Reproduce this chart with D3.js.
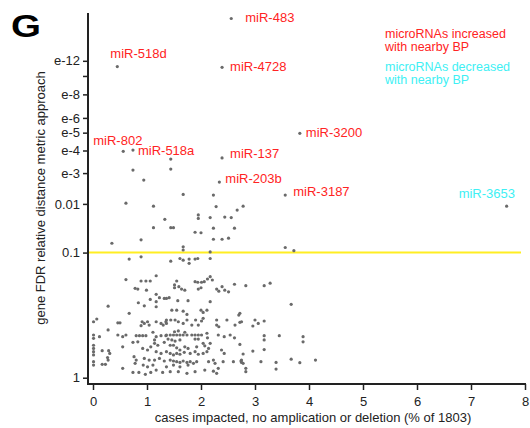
<!DOCTYPE html>
<html>
<head>
<meta charset="utf-8">
<script src="https://cdn.jsdelivr.net/npm/d3@7"></script>
<style>
  body { margin: 0; background: #fff; }
  svg { display: block; font-family: "Liberation Sans", Arial, Helvetica, sans-serif; }
</style>
</head>
<body>
<svg id="chart" width="530" height="428"></svg>
<script>
// x = % of 1803 cases impacted, v = -log10(gene FDR)
var xTicks = [0, 1, 2, 3, 4, 5, 6, 7, 8];
var yTickVals = [0, 1, 2, 3, 4, 5, 6, 8, 10, 12];
var yTickLabels = ["1", "0.1", "0.01", "e-3", "e-4", "e-5", "e-6", "e-8", "", "e-12"];
var cutoffFDR = 0.1;

var mirNames = ["miR-483", "miR-518d", "miR-4728", "miR-3200", "miR-802", "miR-518a", "miR-137", "miR-203b", "miR-3187", "miR-3653"];
var mirCases = [2.56, 0.45, 2.39, 3.83, 0.56, 0.74, 2.39, 2.34, 3.56, 7.66];
var mirFDR = [19.9, 11.2, 11.1, 4.96, 3.96, 4.02, 3.64, 2.67, 2.25, 1.94];
var mirDir = ["up", "up", "up", "up", "up", "up", "up", "up", "up", "down"];

var legendLines = [
  ["microRNAs increased", "up"], ["with nearby BP", "up"],
  ["microRNAs decreased", "down"], ["with nearby BP", "down"]
];

var points = [
  [1.44,3.59],[0.74,3.12],[1.44,3.16],[0.94,2.74],[0.61,2.02],[1.12,1.94],[1.33,1.62],[1.12,1.44],
  [1.44,1.44],[1.49,1.44],[0.35,1.15],[0.89,1.21],[1.67,2.27],[2.23,2.25],[2.28,1.93],[1.95,1.72],
  [1.95,1.64],[2.17,1.66],[2.44,1.67],[2.56,1.66],[2.67,1.84],[2.78,1.94],[1.89,1.35],[2.00,1.34],
  [2.23,1.43],[2.62,1.43],[2.23,1.22],[2.39,1.22],[2.51,1.24],[1.67,1.09],[1.67,1.04],[2.17,1.01],
  [3.56,1.08],[3.72,1.03],
  [0.67,.905],[0.89,.937],[0.61,.647],[0.89,.632],[0.98,.632],[1.06,.632],[1.17,.691],[0.78,.555],
  [0.83,.548],[0.99,.537],[1.17,.497],[1.23,.466],[1.32,.46],[1.06,.451],[0.84,.422],[0.95,.397],
  [1.17,.431],[1.17,.389],[0.28,.394],[0.67,.338],[0.01,.278],[0.07,.297],[0.46,.271],[0.50,.271],
  [0.91,.278],[0.95,.267],[1.01,.278],[1.04,.256],[0.89,.252],[1.17,.278],[1.26,.267],[1.35,.278],
  [1.30,.256],[0.28,.225],[0.01,.195],[0.01,.176],[0.12,.185],[0.46,.195],[0.55,.185],[0.61,.195],
  [0.80,.191],[0.86,.191],[0.92,.191],[0.98,.191],[1.11,.211],[1.17,.185],[1.26,.191],[1.35,.191],
  [0.74,.154],[0.83,.157],[0.55,.131],[1.14,.167],[1.14,.149],[1.20,.139],[1.32,.154],[0.01,.139],
  [0.01,.123],[0.17,.112],[0.29,.112],[0.31,.099],[0.92,.123],[1.01,.115],[1.07,.131],[1.17,.107],
  [1.26,.099],[0.01,.107],[0.01,.092],[0.76,.084],[0.80,.069],[0.78,.055],[0.95,.076],[1.04,.069],
  [1.14,.069],[1.23,.076],[1.32,.065],[0.01,.062],[0.01,.048],[0.17,.051],[0.23,.051],[0.55,.035],
  [0.74,.019],[0.85,.019],[0.97,.012],[1.07,.019],[1.17,.028],[1.29,.019],[0.93,.048],[1.01,.041],
  [1.11,.048],[0.27,.080],[0.28,.069],
  [1.44,.876],[1.61,.913],[1.67,.89],[1.78,.905],[1.78,.846],[1.89,.905],[1.94,.913],[2.17,.913],
  [1.55,.632],[1.51,.59],[1.51,.561],[1.59,.572],[1.64,.548],[1.70,.537],[1.89,.624],[1.94,.618],
  [2.01,.618],[2.06,.624],[2.12,.654],[2.17,.68],[2.21,.643],[1.95,.548],[2.00,.561],[2.29,.548],
  [2.33,.527],[2.39,.572],[2.44,.537],[2.51,.521],[2.62,.597],[1.36,.46],[1.41,.466],[1.57,.44],
  [1.76,.44],[2.17,.431],[1.46,.362],[1.55,.362],[1.67,.354],[1.74,.33],[2.00,.362],[2.04,.345],
  [2.11,.362],[2.70,.325],[1.36,.29],[1.36,.267],[1.44,.29],[1.52,.29],[1.58,.278],[1.67,.267],
  [1.74,.29],[1.83,.256],[1.90,.29],[1.95,.256],[2.01,.283],[2.04,.302],[2.29,.29],[2.29,.256],
  [2.33,.245],[2.48,.29],[2.63,.256],[2.75,.278],
  [1.36,.195],[1.43,.195],[1.49,.195],[1.55,.195],[1.61,.195],[1.67,.195],[1.74,.195],[1.83,.195],
  [1.89,.195],[1.95,.195],[2.01,.195],[1.51,.214],[1.58,.219],[1.70,.211],[1.39,.172],[1.46,.167],
  [1.52,.161],[1.61,.167],[1.89,.172],[1.95,.172],[2.11,.205],[2.12,.179],[2.32,.195],[2.43,.185],
  [2.54,.195],[2.62,.179],[1.43,.139],[1.49,.139],[1.55,.126],[1.61,.115],[1.70,.131],[1.76,.123],
  [1.92,.131],[2.04,.149],[2.07,.136],[2.14,.123],[2.17,.149],[2.38,.115],[2.43,.099],[1.36,.107],
  [1.43,.099],[1.49,.092],[1.55,.099],[1.61,.095],[1.69,.104],[1.80,.099],[1.89,.107],[1.95,.095],
  [2.04,.099],[2.11,.107],[1.43,.069],[1.49,.065],[1.55,.062],[1.61,.059],[1.67,.065],[1.74,.059],
  [1.80,.062],[1.86,.055],[1.92,.062],[2.14,.062],[2.23,.069],[2.26,.055],[2.41,.062],[2.60,.062],
  [2.74,.065],[1.36,.041],[1.49,.048],[1.61,.041],[1.76,.048],[1.43,.022],[1.58,.022],[1.74,.016],
  [1.89,.022],[2.07,.028],[2.23,.024],[2.29,.016],[2.32,.035],
  [2.83,.582],[3.17,.582],[3.28,.608],[3.67,.409],[2.72,.338],[2.72,.274],[3.00,.29],[3.06,.267],
  [2.96,.25],[3.17,.283],[3.17,.191],[3.17,.167],[3.45,.191],[3.89,.185],[3.89,.157],[2.72,.143],
  [2.78,.096],[2.96,.11],[3.17,.117],[2.75,.069],[2.75,.059],[2.78,.055],[2.83,.035],[2.83,.022],
  [3.11,.062],[3.39,.059],[3.39,.032],[3.67,.073],[3.83,.058],[4.12,.069]
];

var colors = { up: "#ff2323", down: "#3ef0f4" };

var svg = d3.select("#chart");
var x = d3.scaleLinear().domain([0, 8]).range([93, 525]);
// axis is log of (-log10 FDR + 0.3)
var yShift = 0.3;
var y = d3.scaleLog().domain([0.2787, 21.54]).range([384, 13]);
function yv(v) { return y(v + yShift); }

// label nudges (px) from each dot
var nudge = {
  "miR-483": [14, 4], "miR-518d": [-7, -9], "miR-4728": [8, 4], "miR-3200": [6, 4],
  "miR-802": [-30, -6], "miR-518a": [5, 5], "miR-137": [8, 0], "miR-203b": [6, 1],
  "miR-3187": [8, 1], "miR-3653": [-48, -8]
};

// cutoff line
svg.append("line")
  .attr("x1", 88).attr("x2", 521)
  .attr("y1", yv(-Math.log10(cutoffFDR))).attr("y2", yv(-Math.log10(cutoffFDR)))
  .attr("stroke", "#ffee22").attr("stroke-width", 2);

// dots
svg.append("g").selectAll("circle")
  .data(points)
  .enter().append("circle")
  .attr("cx", function (d) { return x(d[0]); })
  .attr("cy", function (d) { return yv(d[1]); })
  .attr("r", 1.6)
  .attr("fill", "#6a6a6a");

svg.append("g").selectAll("circle")
  .data(mirNames)
  .enter().append("circle")
  .attr("cx", function (d, i) { return x(mirCases[i]); })
  .attr("cy", function (d, i) { return yv(mirFDR[i]); })
  .attr("r", 1.6)
  .attr("fill", "#6a6a6a");

svg.append("g").selectAll("text")
  .data(mirNames)
  .enter().append("text")
  .attr("x", function (d, i) { return x(mirCases[i]) + nudge[d][0]; })
  .attr("y", function (d, i) { return yv(mirFDR[i]) + nudge[d][1]; })
  .attr("font-size", 13)
  .attr("fill", function (d, i) { return colors[mirDir[i]]; })
  .text(function (d) { return d; });

// axes
var gx = svg.append("g")
  .attr("transform", "translate(0,384)")
  .call(d3.axisBottom(x).tickValues(xTicks).tickSize(6).tickPadding(7).tickFormat(d3.format("d")));
gx.select(".domain").remove();
gx.attr("font-size", 13).attr("font-family", null);
gx.selectAll("line").attr("stroke", "#222").attr("stroke-width", 1.5);
gx.selectAll("text").attr("fill", "#222");

var gy = svg.append("g")
  .attr("transform", "translate(88,0)")
  .call(d3.axisLeft(y)
    .tickValues(yTickVals.map(function (v) { return v + yShift; }))
    .tickSize(5).tickPadding(3)
    .tickFormat(function (d, i) { return yTickLabels[i]; }));
gy.select(".domain").remove();
gy.attr("font-size", 13).attr("font-family", null);
gy.selectAll("line").attr("stroke", "#222").attr("stroke-width", 1.5);
gy.selectAll("text").attr("fill", "#222");

svg.append("path")
  .attr("d", "M88,13V384H526")
  .attr("fill", "none")
  .attr("stroke", "#222")
  .attr("stroke-width", 2);

// axis titles
svg.append("text")
  .attr("x", 313).attr("y", 422)
  .attr("text-anchor", "middle")
  .attr("font-size", 13)
  .attr("fill", "#222")
  .text("cases impacted, no amplication or deletion (% of 1803)");

svg.append("text")
  .attr("transform", "translate(45,198) rotate(-90)")
  .attr("text-anchor", "middle")
  .attr("font-size", 13)
  .attr("fill", "#222")
  .text("gene FDR relative distance metric approach");

// panel letter
svg.append("text")
  .attr("x", 11).attr("y", 37)
  .attr("font-size", 31)
  .attr("font-weight", "bold")
  .attr("textLength", 30)
  .attr("lengthAdjust", "spacingAndGlyphs")
  .attr("fill", "#000")
  .text("G");

// legend
svg.append("g").selectAll("text")
  .data(legendLines)
  .enter().append("text")
  .attr("x", 385)
  .attr("y", function (d, i) { return [38, 51, 71, 84][i]; })
  .attr("font-size", 12.5)
  .attr("fill", function (d) { return colors[d[1]]; })
  .text(function (d) { return d[0]; });
</script>
</body>
</html>
